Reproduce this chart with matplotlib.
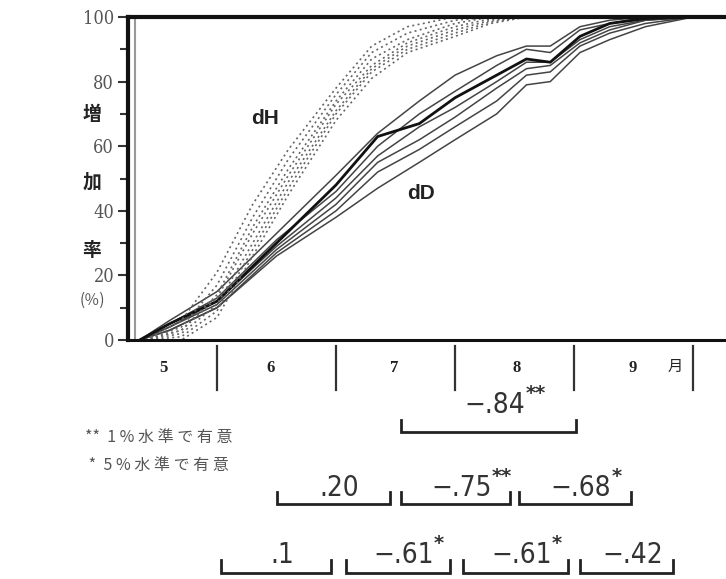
import matplotlib
matplotlib.use("Agg")
import matplotlib.pyplot as plt
from matplotlib import transforms

# ---------------- data ----------------
# x in month units (5.0 = 1 May, 6.0 = 1 June, ...); y = cumulative increase (%)
dD_x = [5.35, 5.6, 6.0, 6.5, 7.0, 7.35, 7.7, 8.0, 8.35, 8.6, 8.8, 9.05, 9.3, 9.6, 10.0, 10.3]
dD_main = [0, 5, 12, 30, 48, 63, 67, 75, 82, 87, 86, 94, 98, 99.5, 100, 100]
dD_1 = [0, 6, 15, 33, 51, 64, 74, 82, 88, 91, 91, 97, 99, 100, 100, 100]
dD_2 = [0, 5, 13, 31, 46, 60, 70, 77, 85, 90, 89, 96, 98, 100, 100, 100]
dD_3 = [0, 4, 12, 29, 44, 57, 66, 72, 80, 86, 86, 93, 97, 99, 100, 100]
dD_4 = [0, 4, 11, 28, 42, 55, 62, 69, 78, 84, 85, 92, 96, 99, 100, 100]
dD_5 = [0, 3, 10, 27, 40, 52, 59, 66, 74, 82, 83, 91, 95, 98, 100, 100]
dD_6 = [0, 3, 10, 26, 38, 47, 55, 62, 70, 79, 80, 89, 93, 97, 100, 100]

dH_x = [5.4, 5.7, 6.0, 6.3, 6.6, 7.0, 7.3, 7.6, 8.0, 8.3, 8.6]
dH_1 = [0, 6, 21, 42, 59, 78, 91, 97, 100, 100, 100]
dH_2 = [0, 4, 17, 38, 56, 76, 89, 95, 99, 100, 100]
dH_3 = [0, 3, 14, 35, 53, 74, 87, 93, 98, 100, 100]
dH_4 = [0, 3, 13, 33, 51, 73, 85, 92, 97, 99.5, 100]
dH_5 = [0, 2, 11, 30, 49, 71, 84, 91, 96, 99, 100]
dH_6 = [0, 1, 9, 28, 47, 70, 83, 90, 95, 98.5, 100]
dH_7 = [0, 0, 7, 26, 45, 68, 81, 89, 94, 98, 100]

month_bounds = [6, 7, 8, 9, 10]
month_labels = ["5", "6", "7", "8", "9"]
month_label_x = [5.55, 6.45, 7.49, 8.52, 9.49]
y_ticks = [0, 20, 40, 60, 80, 100]

# correlation periods: (start, end, value, significance)
corr_row1 = [(7.55, 9.02, "−.84", "**")]
corr_row2 = [(6.50, 7.45, ".20", ""), (7.55, 8.46, "−.75", "**"), (8.54, 9.48, "−.68", "*")]
corr_row3 = [(6.03, 6.96, ".1", ""), (7.08, 7.96, "−.61", "*"),
             (8.07, 8.95, "−.61", "*"), (9.05, 9.83, "−.42", "")]

# ---------------- figure ----------------
W, H = 726, 579
fig = plt.figure(figsize=(W / 100, H / 100), dpi=100)
ax = fig.add_axes([128 / W, 1 - 340 / H, 1 - 128 / W, (340 - 17) / H])

ink = "#222222"
for ys in [dD_1, dD_2, dD_3, dD_4, dD_5, dD_6]:
    ax.plot(dD_x, ys, color="#444444", lw=1.1, solid_joinstyle="round")
ax.plot(dD_x, dD_main, color="#111111", lw=2.0)
for ys in [dH_1, dH_2, dH_3, dH_4, dH_5, dH_6, dH_7]:
    ax.plot(dH_x, ys, color="#666666", lw=1.2, linestyle=(0, (1.2, 2.0)))

ax.set_xlim(5.252, 10.277)
ax.set_ylim(0, 100)
ax.set_yticks(y_ticks)
ax.set_yticks(range(10, 100, 20), minor=True)
ax.set_xticks([])
ax.spines["right"].set_visible(False)
ax.spines["left"].set_linewidth(3)
ax.spines["top"].set_linewidth(3)
ax.spines["bottom"].set_linewidth(2.2)
for s in ax.spines.values():
    s.set_color("#111111")
ax.axvline(5.31, color="#999999", lw=1.5)
ax.tick_params(axis="y", which="major", length=7, width=1.5, pad=3, colors="#333333")
ax.tick_params(axis="y", which="minor", length=6, width=1.5, colors="#333333")
for lab in ax.get_yticklabels():
    lab.set_fontfamily("DejaVu Serif")
    lab.set_fontstretch("condensed")
    lab.set_fontsize(13)
    lab.set_color("#555555")

ax.text(6.40, 68.5, "dH", fontsize=15, fontweight="bold", family="Liberation Sans",
        color=ink, ha="center", va="center")
ax.text(7.71, 45.5, "dD", fontsize=15, fontweight="bold", family="Liberation Sans",
        color=ink, ha="center", va="center")

# y label (vertical Japanese)
cjk = ["Noto Sans CJK JP", "DejaVu Sans"]
for ch, py in [("増", 115), ("加", 182), ("率", 250)]:
    fig.text(92 / W, 1 - py / H, ch, family=cjk, fontsize=13.5, fontweight="bold",
             color=ink, ha="center", va="center")
fig.text(92 / W, 1 - 300 / H, "(％)", family=cjk, fontsize=11, color="#555555",
         ha="center", va="center")

# month separators and labels below the axis
bx = transforms.blended_transform_factory(ax.transData, fig.transFigure)
for m in month_bounds:
    ax.plot([m, m], [1 - 346 / H, 1 - 390 / H], transform=bx, color="#333333",
            lw=1.6, clip_on=False)
for x, lab in zip(month_label_x, month_labels):
    ax.text(x, 1 - 368 / H, lab, transform=bx, family="Liberation Serif",
            fontsize=12, fontweight="bold", color=ink, ha="center", va="center")
ax.text(9.85, 1 - 366 / H, "月", transform=bx, family=cjk, fontsize=11,
        color=ink, ha="center", va="center")

# significance legend
fig.text(85 / W, 1 - 437 / H, "**  1 % 水 準 で 有 意", family=cjk, fontsize=11.5,
         color="#555555", ha="left", va="center")
fig.text(85 / W, 1 - 465 / H, " *  5 % 水 準 で 有 意", family=cjk, fontsize=11.5,
         color="#555555", ha="left", va="center")

# correlation brackets
vfont = "DejaVu Sans"


def bracket_row(rows, text_y, line_y, tick_top):
    for x0, x1, val, sig in rows:
        ax.plot([x0, x0, x1, x1], [1 - tick_top / H, 1 - line_y / H, 1 - line_y / H,
                                   1 - tick_top / H],
                transform=bx, color="#222222", lw=2.0, clip_on=False,
                solid_joinstyle="miter")
        t = ax.text((x0 + x1) / 2 + 0.05, 1 - text_y / H, val, transform=bx,
                    family=vfont, fontstretch="condensed", fontsize=20,
                    color="#333333", ha="center", va="center")
        if sig:
            ax.annotate(sig, xy=(1.0, 0.9), xycoords=t, family=vfont,
                        fontsize=14, fontweight="bold", color="#333333",
                        ha="left", va="center")


bracket_row(corr_row1, 405, 432, 420)
bracket_row(corr_row2, 488, 504, 492)
bracket_row(corr_row3, 555, 573, 560)

fig.savefig("out.png", dpi=100)
